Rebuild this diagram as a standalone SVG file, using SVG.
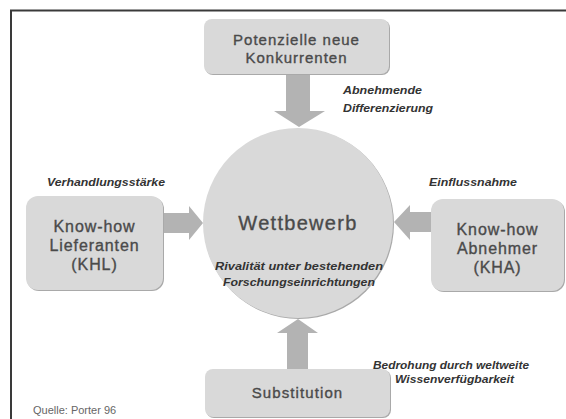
<svg xmlns="http://www.w3.org/2000/svg" width="566" height="419" viewBox="0 0 566 419">
<style>
.box{fill:#d9d9d9}
.shd{fill:#a9a9a9}
.arr{fill:#b3b3b3}
.bt{font-family:"Liberation Sans",Arial,sans-serif;fill:#4a4a4a;stroke:#4a4a4a;stroke-width:0.35;text-anchor:middle}
.lbl{font-family:"Liberation Sans",Arial,sans-serif;font-weight:bold;font-style:italic;font-size:10px;fill:#333}
.src{font-family:"Liberation Sans",Arial,sans-serif;font-size:11px;fill:#666}
</style>
<rect width="566" height="419" fill="#fff"/>
<path d="M11 419 V10.5 H566" fill="none" stroke="#3a3a3a" stroke-width="2"/>

<g id="connectors">
  <polygon class="arr" points="286,74 310,74 310,111 325,111 299,127 274,111 286,111"/>
  <polygon class="arr" points="287,369 308,369 308,333 318,333 298,319 277,333 287,333"/>
  <polygon class="arr" points="163,213 189,213 189,206 203,223 189,240 189,233 163,233"/>
  <polygon class="arr" points="431,212 410,212 410,205 394,222 410,240 410,232 431,232"/>
</g>

<g id="wettbewerb">
  <circle class="shd" cx="299" cy="224" r="95"/>
  <circle class="box" cx="298" cy="223" r="95"/>
  <text class="bt" x="298" y="230" font-size="20" letter-spacing="1.3">Wettbewerb</text>
  <text class="lbl" x="215" y="270" textLength="168" lengthAdjust="spacingAndGlyphs">Rivalität unter  bestehenden</text>
  <text class="lbl" x="223" y="286" textLength="152" lengthAdjust="spacingAndGlyphs">Forschungseinrichtungen</text>
</g>

<g id="konkurrenten">
  <rect class="shd" x="205" y="20" width="185" height="55" rx="8"/>
  <rect class="box" x="204" y="19" width="185" height="55" rx="8"/>
  <text class="bt" x="296.5" y="45" font-size="15" letter-spacing="1">Potenzielle neue</text>
  <text class="bt" x="296.5" y="63" font-size="15" letter-spacing="1">Konkurrenten</text>
</g>

<g id="lieferanten">
  <rect class="shd" x="27" y="197" width="137" height="94" rx="12"/>
  <rect class="box" x="26" y="196" width="137" height="94" rx="12"/>
  <text class="bt" x="94.5" y="232" font-size="16" letter-spacing="0.9">Know-how</text>
  <text class="bt" x="94.5" y="251" font-size="16" letter-spacing="0.9">Lieferanten</text>
  <text class="bt" x="94.5" y="270" font-size="16" letter-spacing="0.9">(KHL)</text>
</g>

<g id="abnehmer">
  <rect class="shd" x="432" y="200" width="133" height="92" rx="12"/>
  <rect class="box" x="431" y="199" width="133" height="92" rx="12"/>
  <text class="bt" x="497.5" y="235" font-size="16" letter-spacing="0.9">Know-how</text>
  <text class="bt" x="497.5" y="254" font-size="16" letter-spacing="0.9">Abnehmer</text>
  <text class="bt" x="497.5" y="273" font-size="16" letter-spacing="0.9">(KHA)</text>
</g>

<g id="substitution">
  <rect class="shd" x="206" y="370" width="185" height="48" rx="8"/>
  <rect class="box" x="205" y="369" width="185" height="48" rx="8"/>
  <text class="bt" x="297.5" y="398" font-size="15" letter-spacing="1.1">Substitution</text>
</g>

<g id="labels">
  <text class="lbl" x="343" y="94" textLength="79" lengthAdjust="spacingAndGlyphs">Abnehmende</text>
  <text class="lbl" x="343" y="112" textLength="90" lengthAdjust="spacingAndGlyphs">Differenzierung</text>
  <text class="lbl" x="47" y="186" textLength="118" lengthAdjust="spacingAndGlyphs">Verhandlungsstärke</text>
  <text class="lbl" x="429" y="186" textLength="88" lengthAdjust="spacingAndGlyphs">Einflussnahme</text>
  <text class="lbl" x="373" y="369" textLength="156" lengthAdjust="spacingAndGlyphs">Bedrohung durch weltweite</text>
  <text class="lbl" x="395" y="383" textLength="119" lengthAdjust="spacingAndGlyphs">Wissenverfügbarkeit</text>
  <text class="src" x="33" y="414">Quelle: Porter 96</text>
</g>
</svg>
